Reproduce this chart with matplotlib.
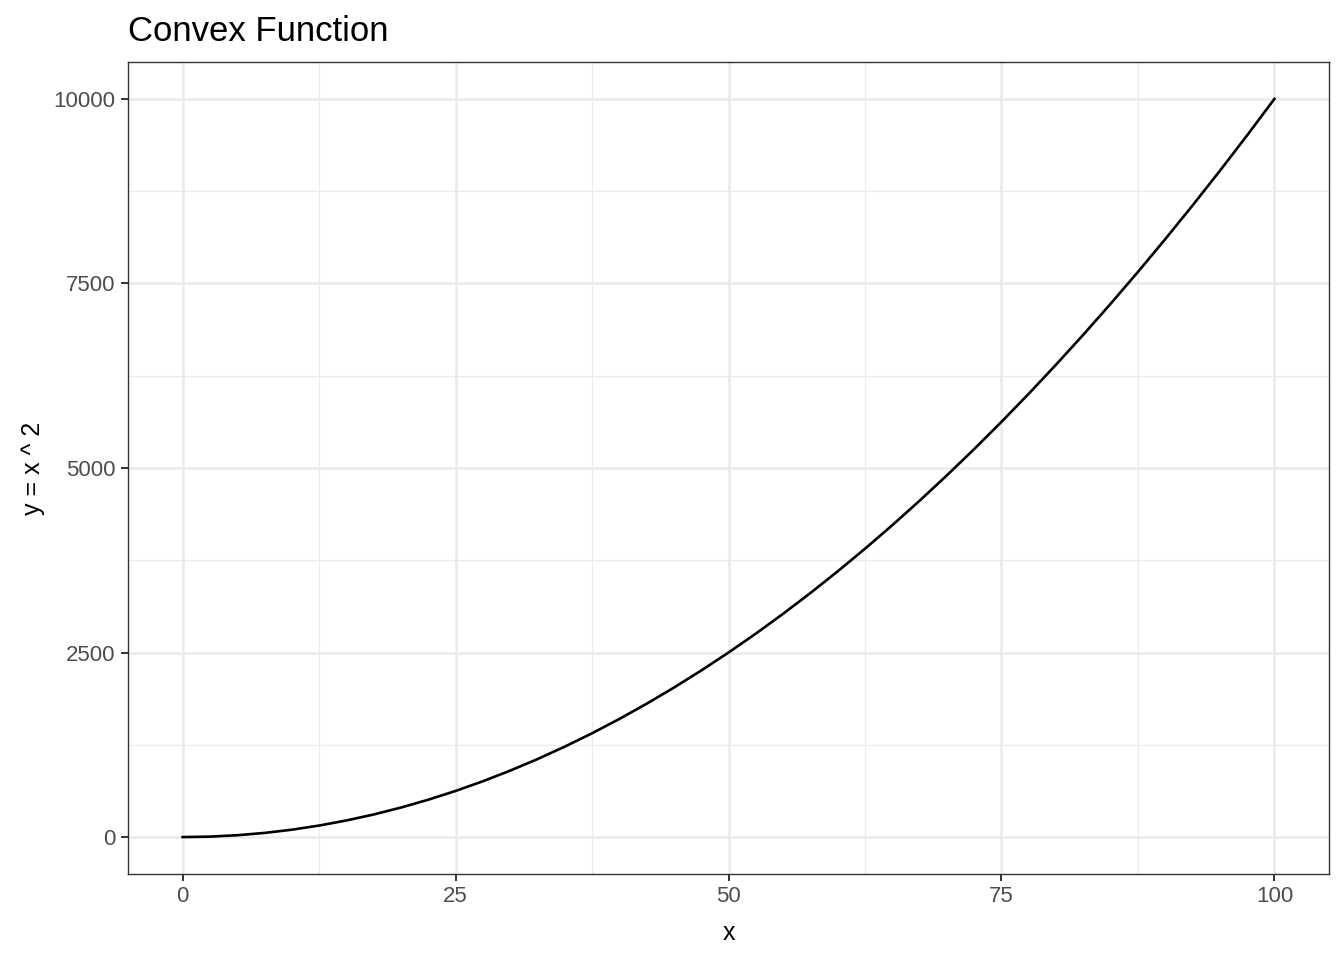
import numpy as np
import matplotlib.pyplot as plt

# values (y = x ^ 2)
x_vals = [0, 2.5, 5, 7.5, 10, 12.5, 15, 17.5, 20, 22.5, 25, 27.5, 30, 32.5, 35, 37.5,
          40, 42.5, 45, 47.5, 50, 52.5, 55, 57.5, 60, 62.5, 65, 67.5, 70, 72.5, 75,
          77.5, 80, 82.5, 85, 87.5, 90, 92.5, 95, 97.5, 100]
y_vals = [0, 6.25, 25, 56.25, 100, 156.25, 225, 306.25, 400, 506.25, 625, 756.25,
          900, 1056.25, 1225, 1406.25, 1600, 1806.25, 2025, 2256.25, 2500, 2756.25,
          3025, 3306.25, 3600, 3906.25, 4225, 4556.25, 4900, 5256.25, 5625, 6006.25,
          6400, 6806.25, 7225, 7656.25, 8100, 8556.25, 9025, 9506.25, 10000]
x_ticks = [0, 25, 50, 75, 100]
y_ticks = [0, 2500, 5000, 7500, 10000]
x_minor = [12.5, 37.5, 62.5, 87.5]
y_minor = [1250, 3750, 6250, 8750]

plt.rcParams['font.family'] = ['Liberation Sans', 'DejaVu Sans']

fig = plt.figure(figsize=(13.44, 9.6), dpi=100)
ax = fig.add_axes([128/1344, 1 - 874/960, (1329 - 128)/1344, (874 - 62)/960])

ax.set_xlim(-5, 105)
ax.set_ylim(-500, 10500)

for v in x_minor:
    ax.axvline(v, color='#EBEBEB', lw=0.9, zorder=0)
for v in y_minor:
    ax.axhline(v, color='#EBEBEB', lw=0.9, zorder=0)
for v in x_ticks:
    ax.axvline(v, color='#EBEBEB', lw=1.8, zorder=0)
for v in y_ticks:
    ax.axhline(v, color='#EBEBEB', lw=1.8, zorder=0)

ax.plot(x_vals, y_vals, color='black', lw=1.9, zorder=3)

ax.set_xticks(x_ticks)
ax.set_yticks(y_ticks)
ax.set_xticklabels([str(t) for t in x_ticks])
ax.set_yticklabels([str(t) for t in y_ticks])
ax.tick_params(length=5, width=1.4, color='#333333', labelcolor='#4D4D4D',
               labelsize=16, pad=4)

for s in ax.spines.values():
    s.set_color('#333333')
    s.set_linewidth(1.0)

ax.set_xlabel('x', fontsize=18, labelpad=10)
ax.set_ylabel('y = x ^ 2', fontsize=18, labelpad=6)
ax.set_title('Convex Function', fontsize=25, loc='left', pad=15)

plt.savefig('out.png', dpi=100)
